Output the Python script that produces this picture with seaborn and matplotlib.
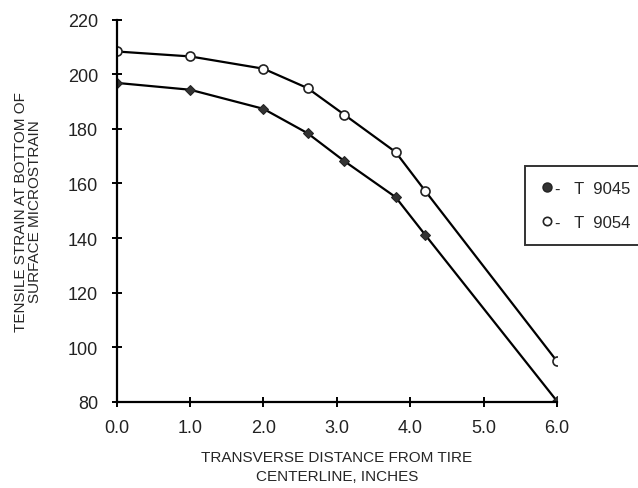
import pandas as pd
import matplotlib.pyplot as plt
import seaborn as sns
from matplotlib.lines import Line2D

# data
distance = [0.0, 1.0, 2.0, 2.6, 3.1, 3.8, 4.2, 6.0]
t9045 = [196.8, 194.3, 187.3, 178.4, 168.2, 155.0, 141.3, 80.3]
t9054 = [208.3, 206.5, 202.0, 194.9, 185.2, 171.5, 157.4, 94.9]
xticks = [0, 1, 2, 3, 4, 5, 6]
yticks = [80, 100, 120, 140, 160, 180, 200, 220]

df = pd.DataFrame({
    'x': distance * 2,
    'strain': t9045 + t9054,
    'test': ['T  9045'] * len(distance) + ['T  9054'] * len(distance),
})

sns.set_style('ticks')
plt.rcParams['font.family'] = ['Liberation Sans', 'DejaVu Sans']

fig = plt.figure(figsize=(6.38, 4.89), dpi=100)
ax = fig.add_axes([0.183, 0.176, 0.690, 0.782])

sns.lineplot(data=df[df.test == 'T  9045'], x='x', y='strain', ax=ax, color='black',
             lw=1.6, marker='D', markersize=5.5, markerfacecolor='#333333',
             markeredgecolor='#222222', legend=False)
sns.lineplot(data=df[df.test == 'T  9054'], x='x', y='strain', ax=ax, color='black',
             lw=1.6, marker='o', markersize=6.5, markerfacecolor='white',
             markeredgecolor='#222222', markeredgewidth=1.2, legend=False)

ax.set_xlim(0, 6)
ax.set_ylim(80, 220)
ax.set_xticks(xticks)
ax.set_xticklabels([f'{v:.1f}' for v in xticks])
ax.set_yticks(yticks)
for s in ['top', 'right']:
    ax.spines[s].set_visible(False)
for s in ['left', 'bottom']:
    ax.spines[s].set_linewidth(1.6)
    ax.spines[s].set_color('black')
    ax.spines[s].set_clip_on(False)
ax.tick_params(direction='inout', length=7, width=1.4, labelsize=13, colors='black')
ax.tick_params(axis='y', pad=10)
ax.tick_params(axis='x', pad=9)
for lab in ax.get_xticklabels() + ax.get_yticklabels():
    lab.set_color('#222222')

ax.set_xlabel('TRANSVERSE DISTANCE FROM TIRE\nCENTERLINE, INCHES', fontsize=11,
              linespacing=1.45)
ax.xaxis.set_label_coords(0.5, -0.125, transform=ax.transAxes)
ax.xaxis.label.set_va('top')
ax.set_ylabel('TENSILE STRAIN AT BOTTOM OF\nSURFACE MICROSTRAIN', fontsize=11,
              linespacing=1.0)
ax.yaxis.set_label_coords(-0.17, 0.5)

handles = [
    Line2D([], [], ls='none', marker='o', markersize=6.5, markerfacecolor='#333333',
           markeredgecolor='#222222'),
    Line2D([], [], ls='none', marker='o', markersize=6, markerfacecolor='white',
           markeredgecolor='#222222', markeredgewidth=1.2),
]
leg = ax.legend(handles, ['-   T  9045', '-   T  9054'], loc='upper left',
                bbox_to_anchor=(525 / 638, 1 - 167 / 489),
                bbox_transform=fig.transFigure, frameon=True, fancybox=False,
                edgecolor='black', fontsize=12, handlelength=0.8, handletextpad=0.1,
                borderpad=0.9, labelspacing=1.15, borderaxespad=0)
leg.get_frame().set_linewidth(1.4)

plt.savefig('out.png', dpi=100)
